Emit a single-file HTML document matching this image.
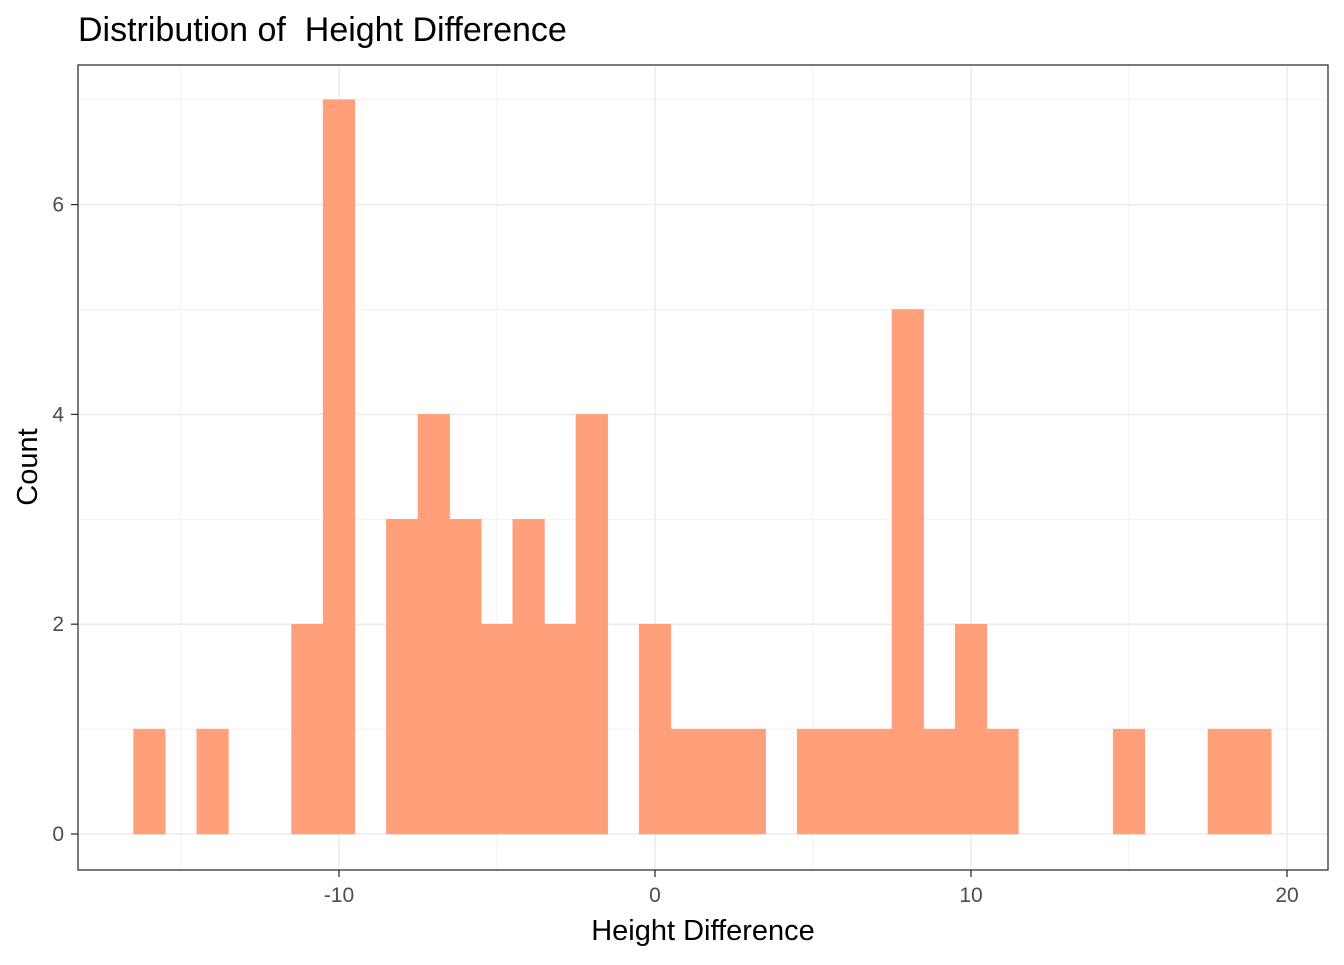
<!DOCTYPE html>
<html><head><meta charset="utf-8"><style>
body{margin:0;background:#fff;font-family:"Liberation Sans",Arial,sans-serif}
</style></head><body>
<svg id="chart" width="1344" height="960" xmlns="http://www.w3.org/2000/svg">
<rect width="1344" height="960" fill="#fff"/>
<text x="78" y="41" font-size="34" fill="#000" style="white-space:pre">Distribution of&#160; Height Difference</text>
<g id="grid"></g>
<g id="bars"></g>
<rect x="78" y="65" width="1250" height="805" fill="none" stroke="#333" stroke-width="1.3"/>
<g id="axes"></g>
<text x="703" y="940" font-size="29" text-anchor="middle">Height Difference</text>
<text transform="translate(37,467) rotate(-90)" font-size="29" text-anchor="middle">Count</text>
</svg>
<script>
const binCenters=[-16,-15,-14,-13,-12,-11,-10,-9,-8,-7,-6,-5,-4,-3,-2,-1,0,1,2,3,4,5,6,7,8,9,10,11,12,13,14,15,16,17,18,19];
const counts=[1,0,1,0,0,2,7,0,3,4,3,2,3,2,4,0,2,1,1,1,0,1,1,1,5,1,2,1,0,0,0,1,0,0,1,1];
const xTicks=[-10,0,10,20];
const xMinor=[-15,-5,5,15];
const yTicks=[0,2,4,6];
const yMinor=[1,3,5,7];
const binWidth=1;
const NS="http://www.w3.org/2000/svg";
const X=v=>655+(v)*31.6;
const Y=v=>834-v*104.9;
function mk(tag,attrs,parent){const e=document.createElementNS(NS,tag);for(const k in attrs)e.setAttribute(k,attrs[k]);parent.appendChild(e);return e;}
const grid=document.getElementById('grid'),bars=document.getElementById('bars'),axes=document.getElementById('axes');
xMinor.forEach(v=>{const l=mk('line',{x1:X(v),x2:X(v),y1:65,y2:870,stroke:'#f2f2f2','stroke-width':1},grid);

});
yMinor.forEach(v=>{const l=mk('line',{x1:78,x2:1328,y1:Y(v),y2:Y(v),stroke:'#f2f2f2','stroke-width':1},grid);

});
xTicks.forEach(v=>{const l=mk('line',{x1:X(v),x2:X(v),y1:65,y2:870,stroke:'#ebebeb','stroke-width':1.5},grid);


const t=mk('line',{x1:X(v),x2:X(v),y1:870,y2:877,stroke:'#333','stroke-width':1.3},axes);


const tx=mk('text',{x:X(v),y:902,'font-size':21,fill:'#4d4d4d','text-anchor':'middle'},axes);tx.textContent=v;

});
yTicks.forEach(v=>{const l=mk('line',{x1:78,x2:1328,y1:Y(v),y2:Y(v),stroke:'#ebebeb','stroke-width':1.5},grid);


const t=mk('line',{x1:71,x2:78,y1:Y(v),y2:Y(v),stroke:'#333','stroke-width':1.3},axes);


const tx=mk('text',{x:64,y:Y(v)+7,'font-size':21,fill:'#4d4d4d','text-anchor':'end'},axes);tx.textContent=v;

});
binCenters.forEach((c,i)=>{if(!counts[i])return;
const x0=X(c-binWidth/2),x1=X(c+binWidth/2);
const r=mk('rect',{x:x0,y:Y(counts[i]),width:x1-x0,height:Y(0)-Y(counts[i]),fill:'#FFA07A',stroke:'#FFA07A','stroke-width':0.6},bars);

});
</script>
</body></html>
